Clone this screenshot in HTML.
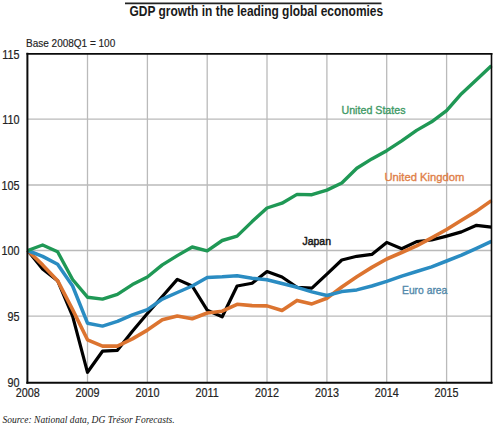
<!DOCTYPE html>
<html><head><meta charset="utf-8"><style>
html,body{margin:0;padding:0;background:#fff;width:500px;height:430px;overflow:hidden}
svg{display:block}
.sans{font-family:"Liberation Sans",sans-serif}
.serif{font-family:"Liberation Serif",serif}
</style></head><body>
<svg width="500" height="430" viewBox="0 0 500 430">
<rect width="500" height="430" fill="#fff"/>
<line x1="125" y1="3.4" x2="381.5" y2="3.4" stroke="#222" stroke-width="1.6"/>
<text class="sans" x="129.5" y="16" font-size="14" font-weight="bold" fill="#1a1a1a" transform="translate(129.5 0) scale(0.855 1) translate(-129.5 0)">GDP growth in the leading global economies</text>
<text class="sans" x="26" y="47" font-size="10" fill="#222" stroke="#222" stroke-width="0.15">Base 2008Q1 = 100</text>
<g stroke="#bababa" stroke-width="1.3"><line x1="27" y1="119.2" x2="491" y2="119.2"/><line x1="27" y1="185" x2="491" y2="185"/><line x1="27" y1="250.5" x2="491" y2="250.5"/><line x1="27" y1="316.2" x2="491" y2="316.2"/><line x1="87.5" y1="54" x2="87.5" y2="382.5"/><line x1="147.4" y1="54" x2="147.4" y2="382.5"/><line x1="207.2" y1="54" x2="207.2" y2="382.5"/><line x1="267.0" y1="54" x2="267.0" y2="382.5"/><line x1="326.9" y1="54" x2="326.9" y2="382.5"/><line x1="386.7" y1="54" x2="386.7" y2="382.5"/><line x1="446.6" y1="54" x2="446.6" y2="382.5"/></g>
<polyline fill="none" stroke="#000" stroke-width="3.2" stroke-linejoin="round" points="27.7,250.5 42.6,268.9 57.6,280.7 72.6,316.1 87.5,372.3 102.5,351.2 117.4,350.3 132.4,331.2 147.4,313.5 162.3,296.5 177.3,279.4 192.2,286.0 207.2,310.2 222.2,316.8 237.1,286.0 252.1,283.3 267.0,271.5 282.0,277.0 297.0,287.3 311.9,288.2 326.9,274.1 341.8,260.0 356.8,256.3 371.8,254.4 386.7,242.4 401.7,248.8 416.6,241.6 431.6,240.0 446.6,236.1 461.5,231.9 476.5,225.3 491.4,227.1"/>
<polyline fill="none" stroke="#dc7430" stroke-width="3.6" stroke-linejoin="round" points="27.7,250.5 42.6,264.9 57.6,280.7 72.6,309.6 87.5,339.8 102.5,346.1 117.4,346.1 132.4,338.9 147.4,330.1 162.3,319.8 177.3,316.1 192.2,318.8 207.2,313.0 222.2,311.2 237.1,304.3 252.1,305.6 267.0,305.9 282.0,310.5 297.0,300.4 311.9,303.9 326.9,298.3 341.8,287.0 356.8,276.8 371.8,267.4 386.7,259.0 401.7,252.5 416.6,245.8 431.6,237.8 446.6,229.5 461.5,220.3 476.5,211.1 491.4,200.6"/>
<polyline fill="none" stroke="#2a8cc2" stroke-width="3.5" stroke-linejoin="round" points="27.7,250.5 42.6,256.4 57.6,264.3 72.6,286.0 87.5,323.2 102.5,326.1 117.4,321.4 132.4,314.8 147.4,309.6 162.3,299.1 177.3,292.5 192.2,286.0 207.2,277.4 222.2,276.8 237.1,275.8 252.1,278.3 267.0,279.8 282.0,283.5 297.0,287.3 311.9,291.9 326.9,295.5 341.8,291.6 356.8,289.9 371.8,286.0 386.7,281.4 401.7,276.1 416.6,271.5 431.6,266.8 446.6,261.0 461.5,255.2 476.5,248.3 491.4,241.3"/>
<polyline fill="none" stroke="#1f9855" stroke-width="3.4" stroke-linejoin="round" points="27.7,250.5 42.6,245.0 57.6,251.8 72.6,279.5 87.5,297.2 102.5,299.1 117.4,294.4 132.4,284.6 147.4,277.0 162.3,264.9 177.3,255.6 192.2,247.0 207.2,250.8 222.2,240.5 237.1,236.1 252.1,221.6 267.0,208.0 282.0,203.2 297.0,194.4 311.9,194.7 326.9,190.1 341.8,183.0 356.8,168.2 371.8,158.9 386.7,150.7 401.7,140.9 416.6,130.4 431.6,121.8 446.6,110.7 461.5,93.7 476.5,79.8 491.4,65.8"/>
<g stroke="#0a0a0a" stroke-linecap="square"><line x1="27.4" y1="53.8" x2="491.5" y2="53.8" stroke-width="1.8"/><line x1="27.4" y1="53.8" x2="27.4" y2="382.7" stroke-width="2"/><line x1="27.4" y1="382.7" x2="491.5" y2="382.7" stroke-width="2"/><line x1="491.5" y1="53.8" x2="491.5" y2="382.7" stroke-width="1.6"/></g>
<g class="sans" font-size="12" fill="#222" stroke="#222" stroke-width="0.2"><text x="19.5" y="58.6" text-anchor="end" transform="translate(19.5 0) scale(0.9 1) translate(-19.5 0)">115</text><text x="19.5" y="123.8" text-anchor="end" transform="translate(19.5 0) scale(0.9 1) translate(-19.5 0)">110</text><text x="19.5" y="189.6" text-anchor="end" transform="translate(19.5 0) scale(0.9 1) translate(-19.5 0)">105</text><text x="19.5" y="255.1" text-anchor="end" transform="translate(19.5 0) scale(0.9 1) translate(-19.5 0)">100</text><text x="19.5" y="320.8" text-anchor="end" transform="translate(19.5 0) scale(0.9 1) translate(-19.5 0)">95</text><text x="19.5" y="387.1" text-anchor="end" transform="translate(19.5 0) scale(0.9 1) translate(-19.5 0)">90</text><text x="27.7" y="397" text-anchor="middle" transform="translate(27.7 0) scale(0.9 1) translate(-27.7 0)">2008</text><text x="87.5" y="397" text-anchor="middle" transform="translate(87.5 0) scale(0.9 1) translate(-87.5 0)">2009</text><text x="147.4" y="397" text-anchor="middle" transform="translate(147.4 0) scale(0.9 1) translate(-147.4 0)">2010</text><text x="207.2" y="397" text-anchor="middle" transform="translate(207.2 0) scale(0.9 1) translate(-207.2 0)">2011</text><text x="267.0" y="397" text-anchor="middle" transform="translate(267.0 0) scale(0.9 1) translate(-267.0 0)">2012</text><text x="326.9" y="397" text-anchor="middle" transform="translate(326.9 0) scale(0.9 1) translate(-326.9 0)">2013</text><text x="386.7" y="397" text-anchor="middle" transform="translate(386.7 0) scale(0.9 1) translate(-386.7 0)">2014</text><text x="446.6" y="397" text-anchor="middle" transform="translate(446.6 0) scale(0.9 1) translate(-446.6 0)">2015</text></g>
<g class="sans" font-size="11" stroke-width="0.35">
<text x="341.5" y="114.3" fill="#3f9a66" stroke="#3f9a66" transform="translate(341.5 0) scale(0.97 1) translate(-341.5 0)">United States</text>
<text x="384.5" y="180.6" fill="#e08048" stroke="#e08048" transform="translate(384.5 0) scale(1.02 1) translate(-384.5 0)">United Kingdom</text>
<text x="302.5" y="244.8" fill="#1a1a1a" stroke="#1a1a1a" stroke-width="0.5" transform="translate(302.5 0) scale(0.95 1) translate(-302.5 0)">Japan</text>
<text x="402" y="294.4" fill="#5289ab" stroke="#5289ab" transform="translate(402 0) scale(0.94 1) translate(-402 0)">Euro area</text>
</g>
<text class="serif" x="2.4" y="422.6" font-size="10" font-style="italic" fill="#222" transform="translate(2.4 0) scale(0.955 1) translate(-2.4 0)">Source: National data, DG Trésor Forecasts.</text>
</svg>
</body></html>
